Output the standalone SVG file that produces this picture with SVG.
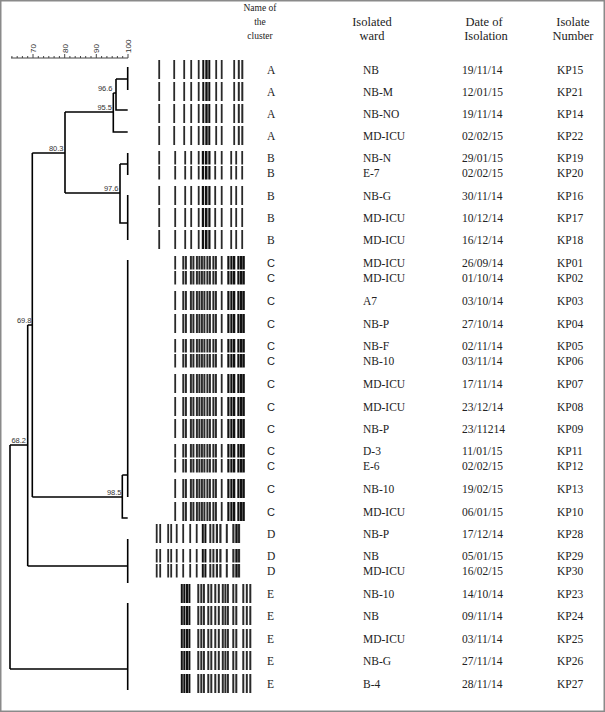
<svg xmlns="http://www.w3.org/2000/svg" xmlns:xlink="http://www.w3.org/1999/xlink" width="605" height="712" viewBox="0 0 605 712">
<style>
.t{font-family:"Liberation Serif","Times New Roman",serif;font-size:11.5px;fill:#222}
.h{font-family:"Liberation Serif","Times New Roman",serif;font-size:12.5px;fill:#222;text-anchor:middle}
.hs{font-family:"Liberation Serif","Times New Roman",serif;font-size:9.5px;fill:#222;text-anchor:middle}
.cs{font-family:"Liberation Sans",Arial,sans-serif;font-size:11px;fill:#222}
.nl{font-family:"Liberation Sans",Arial,sans-serif;font-size:7.5px;fill:#333;text-anchor:end}
.sl{font-family:"Liberation Sans",Arial,sans-serif;font-size:8px;fill:#333}
.den{fill:none;stroke:#000;stroke-width:1.6}
.sc{fill:none;stroke:#444;stroke-width:1}
.b{fill:#2a2a2a}
.k{fill:#111}
</style>
<defs>
<g id="pA"><rect class="b" x="158.3" y="0" width="1.8" height="1"/><rect class="b" x="173.3" y="0" width="1.8" height="1"/><rect class="b" x="183.3" y="0" width="1.8" height="1"/><rect class="b" x="190.3" y="0" width="1.8" height="1"/><rect class="b" x="197.8" y="0" width="1.8" height="1"/><rect class="k" x="202.3" y="0" width="2" height="1"/><rect class="k" x="205.3" y="0" width="2.4" height="1"/><rect class="k" x="208.3" y="0" width="2" height="1"/><rect class="b" x="215.3" y="0" width="1.8" height="1"/><rect class="b" x="220.8" y="0" width="1.8" height="1"/><rect class="b" x="233.3" y="0" width="1.8" height="1"/><rect class="b" x="237.8" y="0" width="2" height="1"/><rect class="b" x="241.3" y="0" width="2" height="1"/></g>
<g id="pB"><rect class="b" x="158.3" y="0" width="1.8" height="1"/><rect class="b" x="174.3" y="0" width="1.8" height="1"/><rect class="b" x="184.3" y="0" width="1.8" height="1"/><rect class="b" x="190.3" y="0" width="1.8" height="1"/><rect class="b" x="197.8" y="0" width="1.8" height="1"/><rect class="k" x="201.8" y="0" width="2.2" height="1"/><rect class="k" x="204.8" y="0" width="2.7" height="1"/><rect class="k" x="208.3" y="0" width="2.2" height="1"/><rect class="b" x="214.3" y="0" width="1.8" height="1"/><rect class="b" x="220.8" y="0" width="1.8" height="1"/><rect class="b" x="230.3" y="0" width="1.8" height="1"/><rect class="b" x="235.3" y="0" width="1.8" height="1"/><rect class="b" x="241.3" y="0" width="1.8" height="1"/></g>
<g id="pC"><rect class="b" x="174.3" y="0" width="1.8" height="1"/><rect class="b" x="182.3" y="0" width="2" height="1"/><rect class="b" x="184.9" y="0" width="2" height="1"/><rect class="b" x="189.9" y="0" width="2" height="1"/><rect class="b" x="192.4" y="0" width="2" height="1"/><rect class="b" x="195.9" y="0" width="2" height="1"/><rect class="b" x="198.4" y="0" width="2" height="1"/><rect class="b" x="200.9" y="0" width="2" height="1"/><rect class="b" x="203.4" y="0" width="2" height="1"/><rect class="b" x="206.4" y="0" width="2" height="1"/><rect class="b" x="208.9" y="0" width="2" height="1"/><rect class="b" x="212.4" y="0" width="2" height="1"/><rect class="b" x="214.9" y="0" width="2" height="1"/><rect class="b" x="220.8" y="0" width="1.8" height="1"/><rect class="k" x="227.3" y="0" width="2.2" height="1"/><rect class="k" x="230.3" y="0" width="2.2" height="1"/><rect class="k" x="232.9" y="0" width="2.4" height="1"/><rect class="k" x="237.3" y="0" width="2.2" height="1"/><rect class="k" x="239.9" y="0" width="2.4" height="1"/><rect class="k" x="242.4" y="0" width="2.4" height="1"/></g>
<g id="pD"><rect class="b" x="155.8" y="0" width="1.8" height="1"/><rect class="b" x="159.3" y="0" width="1.8" height="1"/><rect class="b" x="167.3" y="0" width="1.8" height="1"/><rect class="b" x="170.3" y="0" width="1.8" height="1"/><rect class="b" x="175.8" y="0" width="1.8" height="1"/><rect class="b" x="182.3" y="0" width="1.8" height="1"/><rect class="b" x="189.3" y="0" width="1.8" height="1"/><rect class="b" x="195.8" y="0" width="1.8" height="1"/><rect class="k" x="201.8" y="0" width="2" height="1"/><rect class="k" x="204.4" y="0" width="2" height="1"/><rect class="b" x="209.3" y="0" width="2" height="1"/><rect class="b" x="212.4" y="0" width="2" height="1"/><rect class="b" x="215.8" y="0" width="2.2" height="1"/><rect class="b" x="219.3" y="0" width="2.2" height="1"/><rect class="b" x="225.8" y="0" width="2" height="1"/><rect class="b" x="232.3" y="0" width="2.2" height="1"/><rect class="k" x="235.3" y="0" width="2.4" height="1"/><rect class="b" x="237.9" y="0" width="2.2" height="1"/></g>
<g id="pE"><rect class="k" x="180.8" y="0" width="2" height="1"/><rect class="k" x="183.3" y="0" width="2" height="1"/><rect class="k" x="185.8" y="0" width="2.2" height="1"/><rect class="k" x="188.4" y="0" width="2" height="1"/><rect class="b" x="197.3" y="0" width="2" height="1"/><rect class="b" x="200.3" y="0" width="2" height="1"/><rect class="b" x="202.9" y="0" width="2" height="1"/><rect class="b" x="207.3" y="0" width="2" height="1"/><rect class="b" x="210.3" y="0" width="2" height="1"/><rect class="b" x="214.3" y="0" width="2" height="1"/><rect class="b" x="217.8" y="0" width="2" height="1"/><rect class="b" x="221.8" y="0" width="2" height="1"/><rect class="b" x="224.4" y="0" width="2" height="1"/><rect class="b" x="226.9" y="0" width="2" height="1"/><rect class="b" x="232.3" y="0" width="2" height="1"/><rect class="b" x="235.3" y="0" width="2" height="1"/><rect class="b" x="242.3" y="0" width="2" height="1"/><rect class="b" x="245.8" y="0" width="2" height="1"/><rect class="b" x="249.3" y="0" width="2" height="1"/></g>
</defs>
<rect x="0.75" y="0.75" width="603.5" height="710.5" fill="#fff" stroke="#8a8a8a" stroke-width="1.5"/>

<g id="scale">
<path class="sc" d="M11,58H128 M128,54V58 M122.7,56V58 M117.4,56V58 M112.2,56V58 M106.9,56V58 M101.6,56V58 M96.3,54V58 M91,56V58 M85.7,56V58 M80.5,56V58 M75.2,56V58 M69.9,56V58 M64.7,54V58 M59.4,56V58 M54.1,56V58 M48.8,56V58 M43.6,56V58 M38.3,56V58 M33,54V58 M27.7,56V58 M22.4,56V58 M17.2,56V58 M11.9,56V58"/>
<text class="sl" transform="translate(36,53) rotate(-90)">70</text>
<text class="sl" transform="translate(67.7,53) rotate(-90)">80</text>
<text class="sl" transform="translate(99.3,53) rotate(-90)">90</text>
<text class="sl" transform="translate(131,53) rotate(-90)">100</text>
</g>

<g id="connectors">
<path class="den" d="M127.7,67V90 M116,79H127.7 M116,79V110H127.7 M113.3,93H116 M113.3,93V132H127.7 M65,112H113.3"/>
<path class="den" d="M127.7,153V175 M120,164H127.7 M120,164V223H127.7 M127.7,195V240 M65,193H120"/>
<path class="den" d="M65,112V193 M32.3,153H65"/>
<path class="den" d="M127.7,260V497 M122.3,475H127.7 M122.3,475V518H127.7 M32.3,497H122.3"/>
<path class="den" d="M32.3,153V497 M27.7,325H32.3"/>
<path class="den" d="M127.7,539V583 M27.7,566H127.7"/>
<path class="den" d="M27.7,325V566 M10,445H27.7"/>
<path class="den" d="M10,445V669 M10,669H127.7 M127.7,603V690"/>
</g>
<g id="node-labels">
<text class="nl" x="112.5" y="91">96.6</text>
<text class="nl" x="112" y="110">95.5</text>
<text class="nl" x="63.5" y="151">80.3</text>
<text class="nl" x="118.5" y="191">97.6</text>
<text class="nl" x="31.5" y="323">69.8</text>
<text class="nl" x="26" y="443">68.2</text>
<text class="nl" x="121.5" y="495">98.5</text>
</g>

<g id="header">
<text class="hs" x="260" y="11">Name of</text>
<text class="hs" x="260" y="25">the</text>
<text class="hs" x="260" y="39">cluster</text>
<text class="h" x="372" y="26">Isolated</text>
<text class="h" x="372" y="40">ward</text>
<text class="h" x="484" y="26">Date of</text>
<text class="h" x="486" y="40">Isolation</text>
<text class="h" x="573" y="26">Isolate</text>
<text class="h" x="573" y="40">Number</text>
</g>

<g id="gel">
<use xlink:href="#pA" transform="translate(0,60) scale(1,19)"/>
<use xlink:href="#pA" transform="translate(0,82) scale(1,19)"/>
<use xlink:href="#pA" transform="translate(0,104) scale(1,19)"/>
<use xlink:href="#pA" transform="translate(0,126) scale(1,19)"/>
<use xlink:href="#pB" transform="translate(0,151) scale(1,13.5)"/>
<use xlink:href="#pB" transform="translate(0,166) scale(1,13.5)"/>
<use xlink:href="#pB" transform="translate(0,186) scale(1,19)"/>
<use xlink:href="#pB" transform="translate(0,208) scale(1,19)"/>
<use xlink:href="#pB" transform="translate(0,230) scale(1,19)"/>
<use xlink:href="#pC" transform="translate(0,256) scale(1,13.5)"/>
<use xlink:href="#pC" transform="translate(0,271) scale(1,13.5)"/>
<use xlink:href="#pC" transform="translate(0,291) scale(1,19)"/>
<use xlink:href="#pC" transform="translate(0,314) scale(1,19)"/>
<use xlink:href="#pC" transform="translate(0,339) scale(1,13.5)"/>
<use xlink:href="#pC" transform="translate(0,354) scale(1,13.5)"/>
<use xlink:href="#pC" transform="translate(0,374) scale(1,19)"/>
<use xlink:href="#pC" transform="translate(0,397) scale(1,19)"/>
<use xlink:href="#pC" transform="translate(0,419) scale(1,19)"/>
<use xlink:href="#pC" transform="translate(0,444) scale(1,13.5)"/>
<use xlink:href="#pC" transform="translate(0,459) scale(1,13.5)"/>
<use xlink:href="#pC" transform="translate(0,479) scale(1,19)"/>
<use xlink:href="#pC" transform="translate(0,502) scale(1,19)"/>
<use xlink:href="#pD" transform="translate(0,524) scale(1,19)"/>
<use xlink:href="#pD" transform="translate(0,549) scale(1,13.5)"/>
<use xlink:href="#pD" transform="translate(0,564) scale(1,13.5)"/>
<use xlink:href="#pE" transform="translate(0,584) scale(1,19)"/>
<use xlink:href="#pE" transform="translate(0,606) scale(1,19)"/>
<use xlink:href="#pE" transform="translate(0,629) scale(1,19)"/>
<use xlink:href="#pE" transform="translate(0,651) scale(1,19)"/>
<use xlink:href="#pE" transform="translate(0,674) scale(1,19)"/>
</g>

<g id="rows">
<g id="KP15"><text class="t" x="267" y="74">A</text><text class="t" x="363" y="74">NB</text><text class="t" x="462" y="74">19/11/14</text><text class="t" x="557" y="74">KP15</text></g>
<g id="KP21"><text class="t" x="267" y="96">A</text><text class="t" x="363" y="96">NB-M</text><text class="t" x="462" y="96">12/01/15</text><text class="t" x="557" y="96">KP21</text></g>
<g id="KP14"><text class="t" x="267" y="118">A</text><text class="t" x="363" y="118">NB-NO</text><text class="t" x="462" y="118">19/11/14</text><text class="t" x="557" y="118">KP14</text></g>
<g id="KP22"><text class="t" x="267" y="140">A</text><text class="t" x="363" y="140">MD-ICU</text><text class="t" x="462" y="140">02/02/15</text><text class="t" x="557" y="140">KP22</text></g>
<g id="KP19"><text class="t" x="267" y="162">B</text><text class="t" x="363" y="162">NB-N</text><text class="t" x="462" y="162">29/01/15</text><text class="t" x="557" y="162">KP19</text></g>
<g id="KP20"><text class="t" x="267" y="177">B</text><text class="t" x="363" y="177">E-7</text><text class="t" x="462" y="177">02/02/15</text><text class="t" x="557" y="177">KP20</text></g>
<g id="KP16"><text class="t" x="267" y="200">B</text><text class="t" x="363" y="200">NB-G</text><text class="t" x="462" y="200">30/11/14</text><text class="t" x="557" y="200">KP16</text></g>
<g id="KP17"><text class="t" x="267" y="222">B</text><text class="t" x="363" y="222">MD-ICU</text><text class="t" x="462" y="222">10/12/14</text><text class="t" x="557" y="222">KP17</text></g>
<g id="KP18"><text class="t" x="267" y="244">B</text><text class="t" x="363" y="244">MD-ICU</text><text class="t" x="462" y="244">16/12/14</text><text class="t" x="557" y="244">KP18</text></g>
<g id="KP01"><text class="cs" x="267" y="267">C</text><text class="t" x="363" y="267">MD-ICU</text><text class="t" x="462" y="267">26/09/14</text><text class="t" x="557" y="267">KP01</text></g>
<g id="KP02"><text class="cs" x="267" y="282">C</text><text class="t" x="363" y="282">MD-ICU</text><text class="t" x="462" y="282">01/10/14</text><text class="t" x="557" y="282">KP02</text></g>
<g id="KP03"><text class="cs" x="267" y="305">C</text><text class="t" x="363" y="305">A7</text><text class="t" x="462" y="305">03/10/14</text><text class="t" x="557" y="305">KP03</text></g>
<g id="KP04"><text class="cs" x="267" y="328">C</text><text class="t" x="363" y="328">NB-P</text><text class="t" x="462" y="328">27/10/14</text><text class="t" x="557" y="328">KP04</text></g>
<g id="KP05"><text class="cs" x="267" y="350">C</text><text class="t" x="363" y="350">NB-F</text><text class="t" x="462" y="350">02/11/14</text><text class="t" x="557" y="350">KP05</text></g>
<g id="KP06"><text class="cs" x="267" y="365">C</text><text class="t" x="363" y="365">NB-10</text><text class="t" x="462" y="365">03/11/14</text><text class="t" x="557" y="365">KP06</text></g>
<g id="KP07"><text class="cs" x="267" y="388">C</text><text class="t" x="363" y="388">MD-ICU</text><text class="t" x="462" y="388">17/11/14</text><text class="t" x="557" y="388">KP07</text></g>
<g id="KP08"><text class="cs" x="267" y="411">C</text><text class="t" x="363" y="411">MD-ICU</text><text class="t" x="462" y="411">23/12/14</text><text class="t" x="557" y="411">KP08</text></g>
<g id="KP09"><text class="cs" x="267" y="433">C</text><text class="t" x="363" y="433">NB-P</text><text class="t" x="462" y="433">23/11214</text><text class="t" x="557" y="433">KP09</text></g>
<g id="KP11"><text class="cs" x="267" y="455">C</text><text class="t" x="363" y="455">D-3</text><text class="t" x="462" y="455">11/01/15</text><text class="t" x="557" y="455">KP11</text></g>
<g id="KP12"><text class="cs" x="267" y="470">C</text><text class="t" x="363" y="470">E-6</text><text class="t" x="462" y="470">02/02/15</text><text class="t" x="557" y="470">KP12</text></g>
<g id="KP13"><text class="cs" x="267" y="493">C</text><text class="t" x="363" y="493">NB-10</text><text class="t" x="462" y="493">19/02/15</text><text class="t" x="557" y="493">KP13</text></g>
<g id="KP10"><text class="cs" x="267" y="516">C</text><text class="t" x="363" y="516">MD-ICU</text><text class="t" x="462" y="516">06/01/15</text><text class="t" x="557" y="516">KP10</text></g>
<g id="KP28"><text class="t" x="267" y="538">D</text><text class="t" x="363" y="538">NB-P</text><text class="t" x="462" y="538">17/12/14</text><text class="t" x="557" y="538">KP28</text></g>
<g id="KP29"><text class="t" x="267" y="560">D</text><text class="t" x="363" y="560">NB</text><text class="t" x="462" y="560">05/01/15</text><text class="t" x="557" y="560">KP29</text></g>
<g id="KP30"><text class="t" x="267" y="575">D</text><text class="t" x="363" y="575">MD-ICU</text><text class="t" x="462" y="575">16/02/15</text><text class="t" x="557" y="575">KP30</text></g>
<g id="KP23"><text class="t" x="267" y="598">E</text><text class="t" x="363" y="598">NB-10</text><text class="t" x="462" y="598">14/10/14</text><text class="t" x="557" y="598">KP23</text></g>
<g id="KP24"><text class="t" x="267" y="620">E</text><text class="t" x="363" y="620">NB</text><text class="t" x="462" y="620">09/11/14</text><text class="t" x="557" y="620">KP24</text></g>
<g id="KP25"><text class="t" x="267" y="643">E</text><text class="t" x="363" y="643">MD-ICU</text><text class="t" x="462" y="643">03/11/14</text><text class="t" x="557" y="643">KP25</text></g>
<g id="KP26"><text class="t" x="267" y="665">E</text><text class="t" x="363" y="665">NB-G</text><text class="t" x="462" y="665">27/11/14</text><text class="t" x="557" y="665">KP26</text></g>
<g id="KP27"><text class="t" x="267" y="688">E</text><text class="t" x="363" y="688">B-4</text><text class="t" x="462" y="688">28/11/14</text><text class="t" x="557" y="688">KP27</text></g>
</g>
</svg>
